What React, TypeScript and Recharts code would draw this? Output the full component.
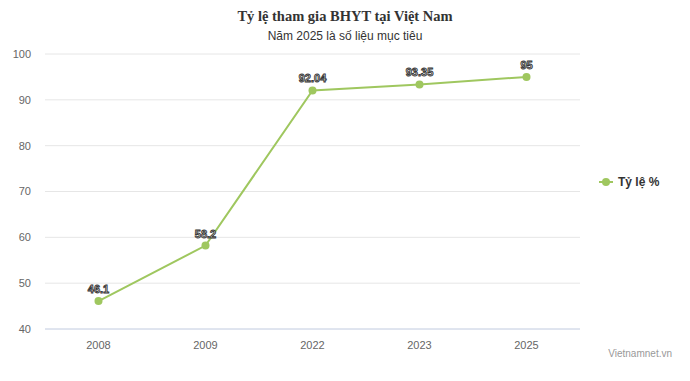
import React from 'react';
import { LineChart, Line, XAxis, YAxis, CartesianGrid, LabelList } from 'recharts';

const years = ['2008', '2009', '2022', '2023', '2025'];
const rates = [46.1, 58.2, 92.04, 93.35, 95];
const yTicks = [40, 50, 60, 70, 80, 90, 100];

const data = years.map((year, i) => ({ year, rate: rates[i] }));

const GREEN = '#9fc75f';
const FONT = '"Lucida Grande", "Lucida Sans Unicode", Arial, "Liberation Sans", sans-serif';

const PointLabel = (props: any) => {
  const { x, y, value } = props;
  return (
    <text
      x={x}
      y={y - 8}
      textAnchor="middle"
      fontSize={11}
      fontWeight="bold"
      fontFamily={FONT}
      fill="#ffffff"
      stroke="#333333"
      strokeWidth={0.9}
    >
      {value}
    </text>
  );
};

// legend drawn outside recharts so it doesn't eat into the plot width
const LegendBox = () => (
  <svg width={90} height={16} style={{ position: 'absolute', left: 597, top: 174 }}>
    <line x1={2} y1={8} x2={16} y2={8} stroke={GREEN} strokeWidth={2} />
    <circle cx={9} cy={8} r={4} fill={GREEN} />
    <text x={21} y={12} fontSize={12} fontWeight="bold" fontFamily={FONT} fill="#333333">
      Tỷ lệ %
    </text>
  </svg>
);

export default function App() {
  return (
    <div style={{ position: 'absolute', left: 0, top: 0, width: 690, height: 381, background: '#fff', fontFamily: FONT }}>
      <div style={{ position: 'absolute', top: 8, width: 690, textAlign: 'center', fontFamily: '"Liberation Serif", "Times New Roman", serif', fontWeight: 'bold', fontSize: 14.5, color: '#333' }}>
        Tỷ lệ tham gia BHYT tại Việt Nam
      </div>
      <div style={{ position: 'absolute', top: 29, width: 690, textAlign: 'center', fontSize: 12, color: '#333' }}>
        Năm 2025 là số liệu mục tiêu
      </div>
      <LineChart width={690} height={381} data={data} margin={{ top: 54, right: 110, bottom: 22, left: 5 }}>
        <CartesianGrid vertical={false} stroke="#e6e6e6" />
        <XAxis
          dataKey="year"
          scale="band"
          height={30}
          tickLine={false}
          axisLine={{ stroke: '#ccd6eb' }}
          tick={{ fontSize: 11, fill: '#666666', fontFamily: FONT }}
          tickMargin={6}
        />
        <YAxis
          width={40}
          domain={[40, 100]}
          ticks={yTicks}
          axisLine={false}
          tickLine={false}
          tick={{ fontSize: 11, fill: '#666666', fontFamily: FONT }}
          tickMargin={8}
        />
        <Line
          type="linear"
          dataKey="rate"
          stroke={GREEN}
          strokeWidth={2}
          dot={{ r: 4, fill: GREEN, stroke: GREEN, strokeWidth: 0 }}
          activeDot={false}
          isAnimationActive={false}
        >
          <LabelList dataKey="rate" content={<PointLabel />} />
        </Line>
      </LineChart>
      <LegendBox />
      <div style={{ position: 'absolute', right: 18, top: 348, fontSize: 10, color: '#999' }}>Vietnamnet.vn</div>
    </div>
  );
}
